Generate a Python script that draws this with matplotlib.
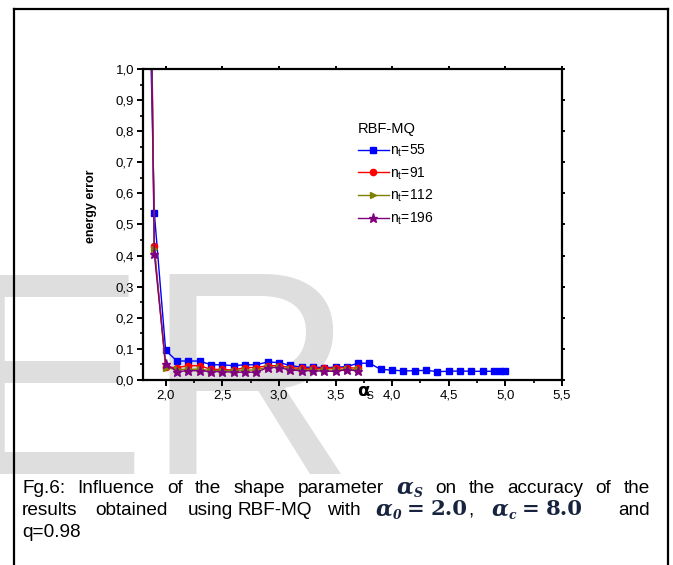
import numpy as np
import matplotlib
matplotlib.use("Agg")
import matplotlib.pyplot as plt
from matplotlib.ticker import MultipleLocator, FuncFormatter
from matplotlib.lines import Line2D

plt.rcParams['font.family'] = ['Liberation Sans', 'DejaVu Sans']

# data
x_55 = [1.8, 1.9, 2.0, 2.1, 2.2, 2.3, 2.4, 2.5, 2.6, 2.7, 2.8, 2.9, 3.0, 3.1, 3.2, 3.3,
        3.4, 3.5, 3.6, 3.7, 3.8, 3.9, 4.0, 4.1, 4.2, 4.3, 4.4, 4.5, 4.6, 4.7, 4.8, 4.9,
        4.95, 5.0]
y_55 = [2.2, 0.537, 0.095, 0.061, 0.061, 0.061, 0.049, 0.049, 0.046, 0.049, 0.049, 0.058,
        0.056, 0.047, 0.041, 0.041, 0.040, 0.041, 0.043, 0.054, 0.054, 0.034, 0.032, 0.029,
        0.030, 0.031, 0.027, 0.028, 0.029, 0.028, 0.028, 0.028, 0.028, 0.028]

x_short = [1.8, 1.9, 2.0, 2.1, 2.2, 2.3, 2.4, 2.5, 2.6, 2.7, 2.8, 2.9, 3.0, 3.1, 3.2, 3.3,
           3.4, 3.5, 3.6, 3.7]
y_91 = [3.4, 0.430, 0.041, 0.040, 0.046, 0.046, 0.034, 0.034, 0.032, 0.040, 0.040, 0.046,
        0.046, 0.040, 0.037, 0.037, 0.038, 0.038, 0.040, 0.038]
y_112 = [3.3, 0.420, 0.040, 0.034, 0.034, 0.035, 0.030, 0.030, 0.030, 0.032, 0.032, 0.042,
         0.041, 0.035, 0.032, 0.033, 0.032, 0.032, 0.035, 0.034]
y_196 = [3.2, 0.405, 0.053, 0.027, 0.030, 0.030, 0.027, 0.027, 0.025, 0.025, 0.025, 0.040,
         0.040, 0.032, 0.030, 0.030, 0.028, 0.028, 0.033, 0.029]

series = [
    (x_55, y_55, '#0000ff', 's', 4, '55'),
    (x_short, y_91, '#ff0000', 'o', 4.5, '91'),
    (x_short, y_112, '#808000', '>', 5, '112'),
    (x_short, y_196, '#800080', '*', 6.5, '196'),
]

W, H = 673, 565
fig = plt.figure(figsize=(W / 100, H / 100), dpi=100)
renderer = fig.canvas.get_renderer()

# watermark behind everything
fig.text(-47 / W, 1 - 474 / H, 'ER', fontsize=208, color='#dedede',
         family='Liberation Sans', zorder=-10)

# outer frame (open at the bottom)
fig.add_artist(Line2D([14 / W, 14 / W], [0, 1 - 9 / H], color='black', lw=1.6))
fig.add_artist(Line2D([14 / W, 668 / W], [1 - 9 / H, 1 - 9 / H], color='black', lw=1.6))
fig.add_artist(Line2D([668 / W, 668 / W], [0, 1 - 9 / H], color='black', lw=1.6))

ax = fig.add_axes([143 / W, 1 - 380 / H, (562 - 143) / W, (380 - 69) / H])
ax.set_facecolor('none')

for xs, ys, c, m, ms, lab in series:
    ax.plot(xs, ys, color=c, lw=1, marker=m, ms=ms, mfc=c, mec=c,
            label=r'n$_\mathregular{t}$=' + lab)

ax.set_xlim(1.8, 5.5)
ax.set_ylim(0, 1.0)
ax.xaxis.set_major_locator(MultipleLocator(0.5))
ax.xaxis.set_minor_locator(MultipleLocator(0.25))
ax.yaxis.set_major_locator(MultipleLocator(0.1))
ax.yaxis.set_minor_locator(MultipleLocator(0.05))
comma = FuncFormatter(lambda v, p: ('%.1f' % v).replace('.', ','))
ax.xaxis.set_major_formatter(comma)
ax.yaxis.set_major_formatter(comma)

for s in ax.spines.values():
    s.set_linewidth(1.6)
ax.tick_params(which='major', direction='out', length=4.5, width=1.4, labelsize=9.5, pad=2)
ax.tick_params(which='minor', direction='out', length=2.5, width=1.2)
ax.tick_params(which='both', top=True, right=True)
for t in ax.xaxis.get_ticklines(minor=False)[1::2] + ax.yaxis.get_ticklines(minor=False)[1::2]:
    t.set_markersize(2.5)
for t in ax.xaxis.get_ticklines(minor=True)[1::2] + ax.yaxis.get_ticklines(minor=True)[1::2]:
    t.set_visible(False)

ax.set_ylabel('energy error', fontsize=9, fontweight='bold')
ax.yaxis.set_label_coords(-0.11, 0.56)

ax.text(3.745, -0.034, '\u03b1', fontsize=13, fontweight='bold',
        ha='center', va='center', family='DejaVu Sans')
ax.text(3.775, -0.052, 'S', fontsize=7.5, ha='left', va='center')

leg = ax.legend(loc='upper left', bbox_to_anchor=(0.49, 0.86), frameon=False,
                title='RBF-MQ', alignment='left', fontsize=10, title_fontsize=10.5,
                handlelength=2.2, handletextpad=0.1, labelspacing=0.45, borderpad=0.2)

# ---- caption ----
NAVY = '#18243f'
fs = 13.7
TXT = dict(fontsize=fs)
AKW = dict(fontsize=fs * 1.15, family='DejaVu Serif', weight='bold', style='italic', color=NAVY)
SKW = dict(fontsize=fs * 0.65, family='DejaVu Serif', weight='bold', style='italic', color=NAVY)
NKW = dict(fontsize=fs * 1.12, family='DejaVu Serif', weight='bold', color=NAVY)


def put(x, y, s, dy=0, **kw):
    t = fig.text(x / W, 1 - (y + dy) / H, s, va='baseline', **kw)
    return t.get_window_extent(renderer).x1


def width(s, **kw):
    t = fig.text(0, 0, s, **kw)
    w = t.get_window_extent(renderer).width
    t.remove()
    return w


def alpha_sub(x, y, sub):
    x = put(x, y, '\u03b1', **AKW)
    return put(x, y, sub, dy=fs * 0.32, **SKW)


y1, y2, y3 = 493, 515, 537

# line 1, justified between 22 and 650
words1 = ['Fg.6:', 'Influence', 'of', 'the', 'shape', 'parameter', None,
          'on', 'the', 'accuracy', 'of', 'the']
widths1 = [width('\u03b1', **AKW) + width('S', **SKW) if w is None else width(w, **TXT)
           for w in words1]
gap = (650 - 22 - sum(widths1)) / (len(words1) - 1)
x = 22
for w, wd in zip(words1, widths1):
    if w is None:
        alpha_sub(x, y1, 'S')
    else:
        put(x, y1, w, **TXT)
    x += wd + gap

# line 2, justified
for xp, w in [(22, 'results'), (95, 'obtained'), (188, 'using'), (237, 'RBF-MQ'), (327, 'with')]:
    put(xp, y2, w, **TXT)
alpha_sub(376, y2, '0')
put(407, y2, '=', **NKW)
x = put(431, y2, '2.0', **NKW)
put(x, y2, ',', **TXT)
alpha_sub(492, y2, 'c')
put(522, y2, '=', **NKW)
put(546, y2, '8.0', **NKW)
fig.text(650 / W, 1 - y2 / H, 'and', va='baseline', ha='right', **TXT)

# line 3
put(22, y3, 'q=0.98', **TXT)

fig.savefig('out.png', dpi=100)
